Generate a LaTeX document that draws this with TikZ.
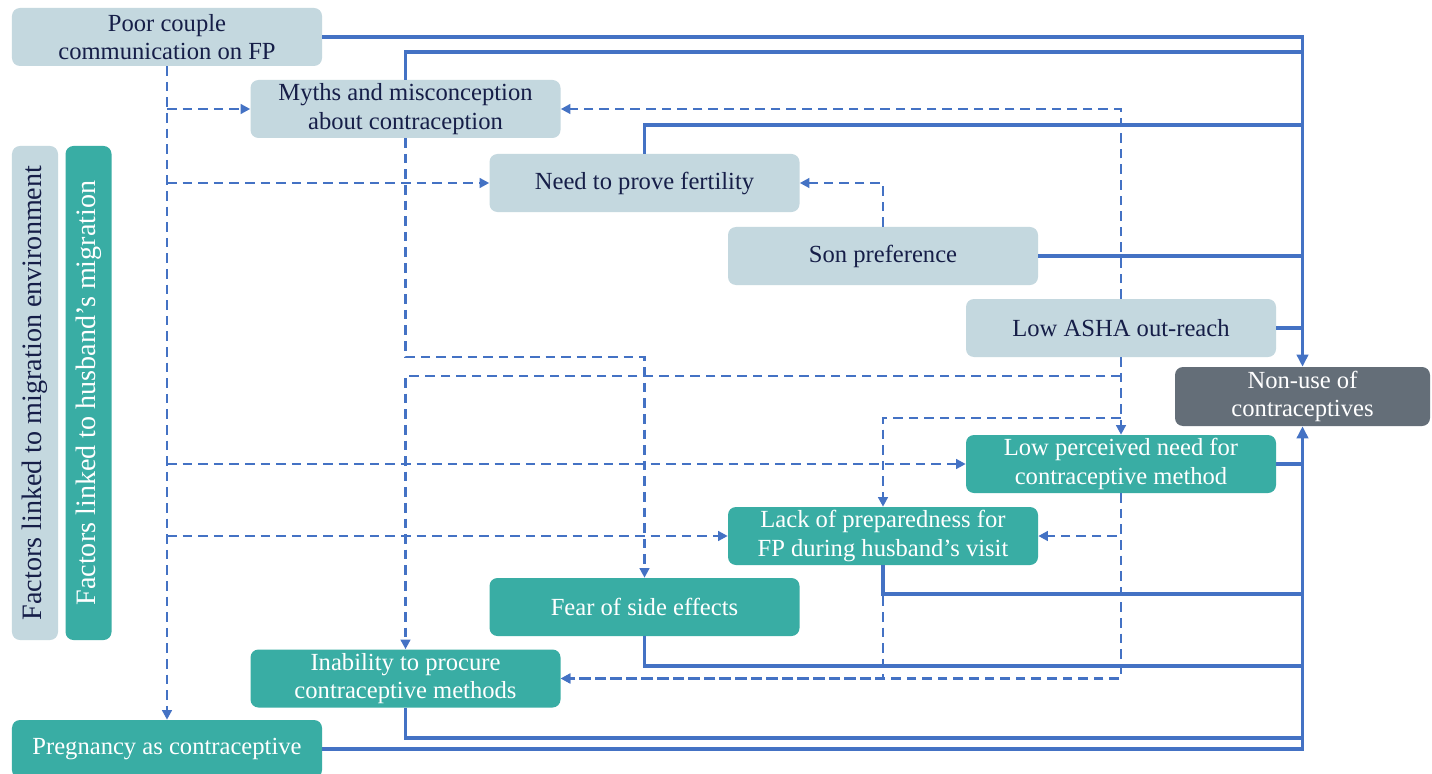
\documentclass[tikz,border=0pt]{standalone}
\usepackage{fontspec}
\setmainfont{Liberation Serif}
\usetikzlibrary{arrows.meta}
\definecolor{paleblue}{RGB}{196,216,223}
\definecolor{boxteal}{RGB}{57,173,164}
\definecolor{boxgrey}{RGB}{100,110,120}
\definecolor{navytext}{RGB}{22,30,72}
\definecolor{linkblue}{RGB}{68,114,196}
\begin{document}
\begin{tikzpicture}[x=0.25mm, y=-0.25mm,
  box/.style={rounded corners=2mm, minimum width=77.5mm, minimum height=14.5mm, inner sep=0pt, align=center, font=\fontsize{17.5}{20.5}\selectfont},
  envbox/.style={box, fill=paleblue, text=navytext},
  husbox/.style={box, fill=boxteal, text=white},
  keybox/.style={rotate=90, minimum width=123.5mm, minimum height=11.5mm, font=\fontsize{20}{24}\selectfont},
  feed/.style={linkblue, line width=0.9mm},
  cause/.style={linkblue, line width=0.6mm, dash pattern=on 2.4mm off 1.5mm, -{Triangle[length=2.4mm,width=2.4mm]}}]
% Page
\fill[white] (0,0) rectangle (1432,774);
\useasboundingbox (0,0) rectangle (1432,774);

% Keys
\node[envbox, keybox] (envkey) at (35,393) {Factors linked to migration  environment};
\node[husbox, keybox] (huskey) at (88.5,393) {Factors linked to husband’s migration};

% Factors
\node[envbox] (poor) at (167,37) {Poor couple\\communication  on FP};
\node[envbox] (myths) at (405.5,109) {Myths  and misconception\\about contraception};
\node[envbox] (fertility) at (644.5,183) {Need to prove  fertility};
\node[envbox] (son) at (883,256) {Son preference};
\node[envbox] (asha) at (1121,328) {Low ASHA  out-reach};
\node[husbox] (lowneed) at (1121,464) {Low perceived  need for\\contraceptive  method};
\node[husbox] (lackprep) at (883,536) {Lack  of preparedness  for\\FP during  husband’s  visit};
\node[husbox] (fear) at (644.5,607) {Fear of side effects};
\node[husbox] (inability) at (405.5,678.5) {Inability to procure\\contraceptive  methods};
\node[husbox] (pregnancy) at (167,749) {Pregnancy  as contraceptive};
\node[box, fill=boxgrey, text=white, minimum width=63.75mm, minimum height=14.75mm] (nonuse) at (1302.5,396.5) {Non-use  of\\contraceptives};

% Dashed links
\draw[cause] (poor.south) -- (pregnancy.north);
\draw[cause] (poor.south |- myths.west) -- (myths.west);
\draw[cause] (poor.south |- fertility.west) -- (fertility.west);
\draw[cause] (poor.south |- lowneed.west) -- (lowneed.west);
\draw[cause] (poor.south |- lackprep.west) -- (lackprep.west);
\draw[cause] (myths.south) |- (fear.north |- 0,357) -- (fear.north);
\draw[cause] (son.north) |- (fertility.east);
\draw[cause] (asha.north) |- (myths.east);
\draw[cause] (asha.south) -- (lowneed.north);
\draw[cause] (asha.south |- 0,376) -| (inability.north);
\draw[cause] (asha.south |- 0,418) -| (lackprep.north);
\draw[cause] (lowneed.south) |- (lackprep.east);
\draw[cause] (lowneed.south) |- (inability.east);
\draw[cause] (lackprep.south) |- (inability.east);

% Solid links
\draw[feed, -{Triangle[length=3mm,width=2.8mm]}] (poor.east) -- (poor.east -| nonuse.north) -- (nonuse.north);
\draw[feed] (myths.north) |- (nonuse.north |- 0,52);
\draw[feed] (fertility.north) |- (nonuse.north |- 0,125);
\draw[feed] (son.east) -- (son.east -| nonuse.north);
\draw[feed] (asha.east) -- (asha.east -| nonuse.north);
\draw[feed, -{Triangle[length=3mm,width=2.8mm]}] (pregnancy.east) -- (pregnancy.east -| nonuse.south) -- (nonuse.south);
\draw[feed] (lowneed.east) -- (lowneed.east -| nonuse.south);
\draw[feed] (lackprep.south) |- (nonuse.south |- 0,594);
\draw[feed] (fear.south) |- (nonuse.south |- 0,666);
\draw[feed] (inability.south) |- (nonuse.south |- 0,738);
\end{tikzpicture}
\end{document}
